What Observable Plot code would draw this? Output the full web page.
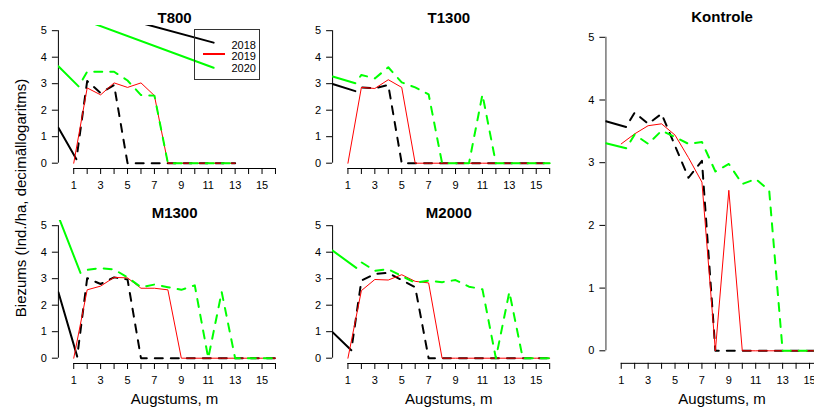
<!DOCTYPE html>
<html>
<head>
<meta charset="utf-8">
<script src="https://cdn.jsdelivr.net/npm/d3@7"></script>
<script src="https://cdn.jsdelivr.net/npm/@observablehq/plot@0.6"></script>
<style>
  html, body { margin: 0; padding: 0; background: #fff; overflow: hidden; }
  #chart { position: relative; width: 814px; height: 410px; overflow: hidden;
           font-family: "Liberation Sans", Arial, sans-serif; color: #000; }
  #ylab { position: absolute; left: 19.5px; top: 197.5px; font-size: 15px; white-space: nowrap;
          transform: translate(-50%, -50%) rotate(-90deg); line-height: normal; }
  #legend-box { position: absolute; left: 194px; top: 29px; width: 64px; height: 49px;
                border: 1.5px solid #333; box-sizing: content-box; }
  .leg-text { position: absolute; left: 231.5px; font-size: 11px; line-height: 12px; }
  .leg-line { position: absolute; left: 203px; width: 22px; height: 2px; background: #ff0000; }
</style>
</head>
<body>
<div id="chart"></div>
<script>
// ---------- data ----------
const heights = [1, 2, 3, 4, 5, 6, 7, 8, 9, 10, 11, 12, 13, 14, 15, 16];
const years = ["2018", "2019", "2020"];
const yTicks = [0, 1, 2, 3, 4, 5];

// 2019 series: values at heights 1..n
// 2018 / 2020 series: *_in = [value at left edge, knee height, value at knee]; then values at heights 2..n
const T800_2018_in = [1.34, 1.2, 0.15];
const T800_2018 = [3.1, 2.65, 2.95, 0, 0, 0, 0, 0, 0, 0, 0, 0];
const T800_2019 = [0, 2.84, 2.58, 3.03, 2.86, 3.03, 2.55, 0, 0, 0, 0, 0, 0];
const T800_2020_in = [3.66, 1.36, 2.9];
const T800_2020 = [3.45, 3.45, 3.45, 3.12, 2.57, 2.55, 0, 0, 0, 0, 0, 0];
// stray legend strokes in the T800 panel
const T800_legendX = [2, 11.4];
const T800_legend2018 = [5.84, 4.55];
const T800_legend2020 = [5.36, 3.6];

const T1300_2018_in = [2.99, 1.55, 2.72];
const T1300_2018 = [2.86, 2.83, 2.95, 0, 0, 0, 0, 0, 0, 0, 0, 0, 0, 0, 0];
const T1300_2019 = [0, 2.86, 2.82, 3.15, 2.86, 0, 0, 0, 0, 0, 0, 0, 0, 0, 0, 0];
const T1300_2020_in = [3.27, 1.55, 3.02];
const T1300_2020 = [3.33, 3.2, 3.62, 3.05, 2.86, 2.6, 0, 0, 0, 2.59, 0, 0, 0, 0, 0];

const M1300_2018_in = [2.49, 1.26, 0.06];
const M1300_2018 = [3.02, 2.8, 3.05, 2.97, 0, 0, 0, 0, 0, 0, 0, 0, 0, 0, 0];
const M1300_2019 = [0, 2.58, 2.72, 3.05, 3.03, 2.64, 2.64, 2.58, 0, 0, 0, 0, 0, 0, 0, 0];
const M1300_2020_in = [5.35, 1.5, 3.22];
const M1300_2020 = [3.33, 3.4, 3.35, 3.05, 2.68, 2.78, 2.68, 2.58, 2.75, 0, 2.5, 0, 0, 0, 0];

const M2000_2018_in = [0.98, 1.25, 0.3];
const M2000_2018 = [2.93, 3.18, 3.22, 2.95, 2.68, 0, 0, 0, 0, 0, 0, 0, 0, 0, 0];
const M2000_2019 = [0, 2.55, 2.97, 2.95, 3.15, 2.9, 2.84, 0, 0, 0, 0, 0, 0, 0, 0, 0];
const M2000_2020_in = [4.06, 1.62, 3.41];
const M2000_2020 = [3.62, 3.3, 3.36, 3.1, 2.85, 2.93, 2.87, 2.95, 2.7, 2.6, 0, 2.5, 0, 0, 0];

const K_2018_in = [3.66, 1.36, 3.57];
const K_2018 = [3.8, 3.62, 3.78, 3.27, 2.76, 3.03, 0, 0, 0, 0, 0, 0, 0, 0, 0];
const K_2019 = [3.30, 3.46, 3.59, 3.62, 3.44, 3.08, 2.69, 0, 2.56, 0, 0, 0, 0, 0, 0, 0];
const K_2020_in = [3.31, 1.37, 3.23];
const K_2020 = [3.45, 3.30, 3.51, 3.41, 3.30, 3.33, 2.86, 2.98, 2.66, 2.74, 2.56, 0, 0, 0, 0];

// ---------- drawing ----------
const COL = {"2018": "#000000", "2019": "#ff0000", "2020": "#00ff00"};
const xDomain = [-0.14, 17.14];
const yDomain = [-0.2, 5.2];
const XU = 13.45;
const PLOT_W = (xDomain[1] - xDomain[0]) * XU;
const FONT = "'Liberation Sans', Arial, Helvetica, sans-serif";
const chart = document.getElementById("chart");

const pts19 = v => v.map((y, i) => ({x: heights[i], y}));
const leadPts = inn => [{x: xDomain[0], y: inn[0]}, {x: inn[1], y: inn[2]}];
const dashPts = (inn, v) => [{x: inn[1], y: inn[2]}, ...v.map((y, i) => ({x: heights[i + 1], y}))];

function panel(o) {
  const plotLeft = o.axisPx, plotRight = plotLeft + PLOT_W;
  const plotTop = o.y0Px - yDomain[1] * o.yUnit;
  const plotBottom = o.y0Px - yDomain[0] * o.yUnit;
  const marks = [
    Plot.ruleX([xDomain[0]], {y1: 0, y2: 5, stroke: o.yAxisColor || "#000", strokeWidth: o.yAxisWidth || 1}),
    Plot.ruleY([yDomain[0]], {x1: heights[0], x2: heights[heights.length - 1], stroke: "#000", strokeWidth: 1}),
    ...(o.extra || []),
    Plot.line(leadPts(o.in18), {x: "x", y: "y", stroke: COL["2018"], strokeWidth: 2, clip: true}),
    Plot.line(dashPts(o.in18, o.v18), {x: "x", y: "y", stroke: COL["2018"], strokeWidth: 2,
      strokeDasharray: "8,8", strokeDashoffset: 8, clip: true}),
    Plot.line(pts19(o.v19), {x: "x", y: "y", stroke: COL["2019"], strokeWidth: 1, clip: true}),
    Plot.line(leadPts(o.in20), {x: "x", y: "y", stroke: COL["2020"], strokeWidth: 2, clip: true}),
    Plot.line(dashPts(o.in20, o.v20), {x: "x", y: "y", stroke: COL["2020"], strokeWidth: 2,
      strokeDasharray: "8,8", strokeDashoffset: 8, clip: true}),
    Plot.text([o.title], {frameAnchor: "top", lineAnchor: "middle", dy: -7.5, fontSize: 15, fontWeight: "bold", fill: "#000"}),
    o.xlabel ? Plot.text([o.xlabel], {frameAnchor: "bottom", lineAnchor: "middle", dy: 36, fontSize: 15, fill: "#000"}) : null
  ].filter(Boolean);
  const svg = Plot.plot({
    width: o.width, height: o.height,
    marginLeft: plotLeft - o.left,
    marginRight: o.left + o.width - plotRight,
    marginTop: plotTop - o.top,
    marginBottom: o.top + o.height - plotBottom,
    x: {domain: xDomain, ticks: heights, tickFormat: d => (d % 2 ? String(d) : ""),
        tickSize: 6, tickPadding: 7, label: null},
    y: {domain: yDomain, ticks: yTicks, tickFormat: d => String(d), tickSize: 6, tickPadding: 5.5, label: null},
    style: `background:transparent;overflow:visible;max-width:none;font-family:${FONT};font-size:11px;color:#000;`,
    marks
  });
  svg.style.position = "absolute";
  svg.style.left = o.left + "px";
  svg.style.top = o.top + "px";
  chart.appendChild(svg);
}

panel({title: "T800", left: 0, top: 0, width: 292, height: 195, axisPx: 57.9, y0Px: 162.7, yUnit: 26.5,
  in18: T800_2018_in, v18: T800_2018, v19: T800_2019, in20: T800_2020_in, v20: T800_2020,
  extra: [
    Plot.line(T800_legendX.map((x, i) => ({x, y: T800_legend2018[i]})), {x: "x", y: "y", stroke: COL["2018"], strokeWidth: 2, clip: true}),
    Plot.line(T800_legendX.map((x, i) => ({x, y: T800_legend2020[i]})), {x: "x", y: "y", stroke: COL["2020"], strokeWidth: 2, clip: true})
  ]});
panel({title: "T1300", left: 300, top: 0, width: 266, height: 195, axisPx: 332.1, y0Px: 162.7, yUnit: 26.5,
  in18: T1300_2018_in, v18: T1300_2018, v19: T1300_2019, in20: T1300_2020_in, v20: T1300_2020});
panel({title: "M1300", left: 0, top: 195, width: 292, height: 215, axisPx: 57.9, y0Px: 357.7, yUnit: 26.5,
  in18: M1300_2018_in, v18: M1300_2018, v19: M1300_2019, in20: M1300_2020_in, v20: M1300_2020,
  xlabel: "Augstums, m"});
panel({title: "M2000", left: 300, top: 195, width: 266, height: 215, axisPx: 332.1, y0Px: 357.7, yUnit: 26.5,
  in18: M2000_2018_in, v18: M2000_2018, v19: M2000_2019, in20: M2000_2020_in, v20: M2000_2020,
  xlabel: "Augstums, m"});
panel({title: "Kontrole", left: 580, top: 0, width: 260, height: 410, axisPx: 605.4, y0Px: 350.3, yUnit: 62.7,
  in18: K_2018_in, v18: K_2018, v19: K_2019, in20: K_2020_in, v20: K_2020,
  yAxisColor: "#808080", yAxisWidth: 1.6, xlabel: "Augstums, m"});

// y-axis title
const ylab = document.createElement("div");
ylab.id = "ylab";
ylab.textContent = "Biezums (Ind./ha, decimāllogaritms)";
chart.appendChild(ylab);

// legend (T800 panel)
const box = document.createElement("div");
box.id = "legend-box";
chart.appendChild(box);
const legTops = [38.5, 50, 62];
years.forEach((yr, i) => {
  const t = document.createElement("div");
  t.className = "leg-text";
  t.style.top = legTops[i] + "px";
  t.textContent = yr;
  chart.appendChild(t);
});
const ln = document.createElement("div");
ln.className = "leg-line";
ln.style.top = "53px";
chart.appendChild(ln);
</script>
</body>
</html>
